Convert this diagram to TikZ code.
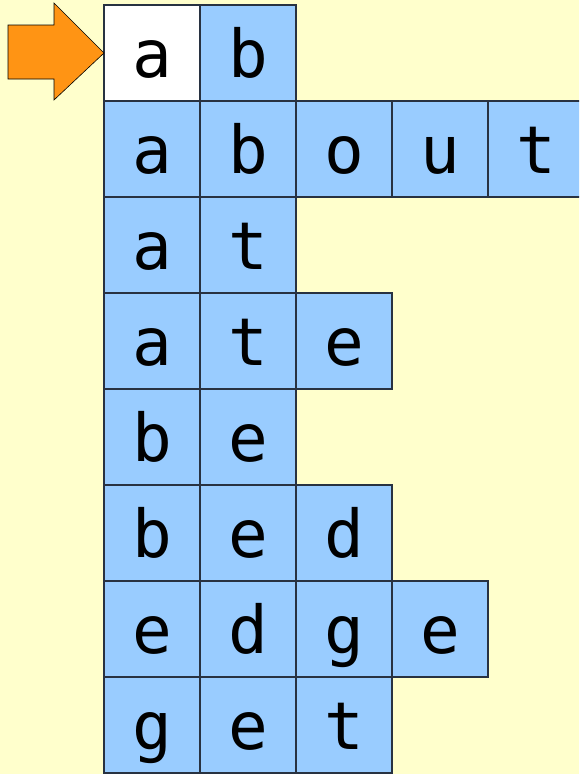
\documentclass[tikz,border=0pt]{standalone}
\usepackage{fontspec}
\setmonofont{DejaVu Sans Mono}
\definecolor{bgyellow}{RGB}{255,255,204}
\definecolor{cellblue}{RGB}{153,204,255}
\definecolor{cellline}{RGB}{40,50,65}
\definecolor{arroworange}{RGB}{255,148,20}
\tikzset{
  cell/.style={draw=cellline, line width=1.3pt, fill=cellblue, minimum width=96pt, minimum height=96pt,
    inner sep=0pt, outer sep=0pt, text height=60pt, text depth=12pt,
    font=\fontsize{66}{70}\selectfont\ttfamily},
  startcell/.style={cell, fill=white},
  pointer/.style={fill=arroworange, draw=black, line width=0.6pt, line join=miter}
}
\begin{document}
\begin{tikzpicture}[x=1pt,y=-1pt]
\useasboundingbox (0,0) rectangle (579,774);
\fill[bgyellow] (0,0) rectangle (579,774);
\begin{scope}
\clip (0,0) rectangle (579,774);
% row 0
\node[startcell] (r0c0) at (152,53) {a};
\node[cell] (r0c1) at (248,53) {b};
% row 1
\node[cell] (r1c0) at (152,149) {a};
\node[cell] (r1c1) at (248,149) {b};
\node[cell] (r1c2) at (344,149) {o};
\node[cell] (r1c3) at (440,149) {u};
\node[cell] (r1c4) at (536,149) {t};
% row 2
\node[cell] (r2c0) at (152,245) {a};
\node[cell] (r2c1) at (248,245) {t};
% row 3
\node[cell] (r3c0) at (152,341) {a};
\node[cell] (r3c1) at (248,341) {t};
\node[cell] (r3c2) at (344,341) {e};
% row 4
\node[cell] (r4c0) at (152,437) {b};
\node[cell] (r4c1) at (248,437) {e};
% row 5
\node[cell] (r5c0) at (152,533) {b};
\node[cell] (r5c1) at (248,533) {e};
\node[cell] (r5c2) at (344,533) {d};
% row 6
\node[cell] (r6c0) at (152,629) {e};
\node[cell] (r6c1) at (248,629) {d};
\node[cell] (r6c2) at (344,629) {g};
\node[cell] (r6c3) at (440,629) {e};
% row 7
\node[cell] (r7c0) at (152,725) {g};
\node[cell] (r7c1) at (248,725) {e};
\node[cell] (r7c2) at (344,725) {t};
\end{scope}
% pointer arrow
\draw[pointer] (8,25) -- (54,25) -- (54,3) -- (r0c0.west) -- (54,100) -- (54,79) -- (8,79) -- cycle;
\end{tikzpicture}
\end{document}
